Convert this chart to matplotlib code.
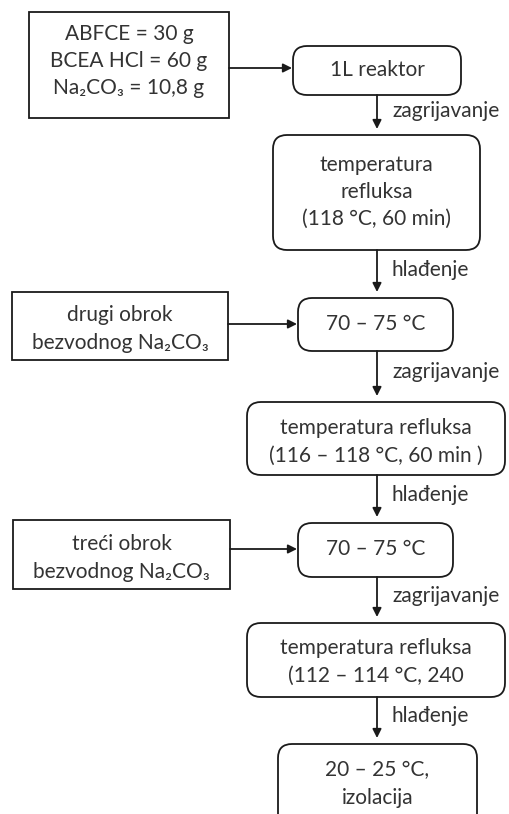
import matplotlib
matplotlib.use("Agg")
import matplotlib.pyplot as plt
from matplotlib.patches import FancyBboxPatch, Rectangle

plt.rcParams['font.family'] = ['Lato', 'DejaVu Sans']

# ---- content ----
input_texts = [
    "ABFCE = 30 g\nBCEA HCl = 60 g\nNa\u2082CO\u2083 = 10,8 g",
    "drugi obrok\nbezvodnog Na\u2082CO\u2083",
    "treći obrok\nbezvodnog Na\u2082CO\u2083",
]
step_texts = [
    "1L reaktor",
    "temperatura\nrefluksa\n(118 °C, 60 min)",
    "70 – 75 °C",
    "temperatura refluksa\n(116 – 118 °C, 60 min )",
    "70 – 75 °C",
    "temperatura refluksa\n(112 – 114 °C, 240",
    "20 – 25 °C,\nizolacija",
]
arrow_labels = ["zagrijavanje", "hlađenje", "zagrijavanje", "hlađenje",
                "zagrijavanje", "hlađenje"]

# ---- layout (pixels, y down) ----
W, H = 509, 814
fig = plt.figure(figsize=(W / 100, H / 100), dpi=100)
ax = fig.add_axes([0, 0, 1, 1])
ax.set_xlim(0, W)
ax.set_ylim(H, 0)
ax.axis('off')

LC = '#1a1a1a'
TC = '#333333'
FS = 15

# step boxes: (x0, y0, x1, y1, text_y_centre)
step_boxes = [
    (293, 46, 461, 95, 70),
    (273, 135, 480, 250, 192),
    (298, 298, 453, 351, 324),
    (247, 402, 505, 475, 442),
    (298, 523, 453, 577, 549),
    (247, 623, 505, 697, 662),
    (278, 744, 477, 830, 784),
]
input_boxes = [
    (29, 12, 229, 118, 61, 68),
    (12, 292, 228, 360, 329, 324),
    (13, 520, 230, 589, 558, 549),
]
LS = 1.45  # linespacing

r = 14
for (x0, y0, x1, y1, ty), t in zip(step_boxes, step_texts):
    p = FancyBboxPatch((x0 + r, y0 + r), (x1 - x0) - 2 * r, (y1 - y0) - 2 * r,
                       boxstyle=f"round,pad={r},rounding_size={r}",
                       fc='white', ec=LC, lw=1.3)
    ax.add_patch(p)
    ax.text((x0 + x1) / 2, ty, t, ha='center', va='center', fontsize=FS,
            color=TC, linespacing=LS)

for (x0, y0, x1, y1, ty, ay), t, (sx0, sy0, sx1, sy1, _) in zip(
        input_boxes, input_texts, [step_boxes[0], step_boxes[2], step_boxes[4]]):
    ax.add_patch(Rectangle((x0, y0), x1 - x0, y1 - y0, fc='white', ec=LC, lw=1.3))
    ax.text((x0 + x1) / 2, ty, t, ha='center', va='center', fontsize=FS,
            color=TC, linespacing=LS)
    ax.annotate('', xy=(sx0 - 1, ay), xytext=(x1, ay),
                arrowprops=dict(arrowstyle='-|>', color=LC, lw=1.3,
                                mutation_scale=13, shrinkA=0, shrinkB=0))

ax_x = 377
for i, lab in enumerate(arrow_labels):
    ya = step_boxes[i][3]
    yb = step_boxes[i + 1][1]
    ax.annotate('', xy=(ax_x, yb - 6), xytext=(ax_x, ya),
                arrowprops=dict(arrowstyle='-|>', color=LC, lw=1.3,
                                mutation_scale=13, shrinkA=0, shrinkB=0))
    ax.text(ax_x + 15, (ya + yb) / 2 - 4, lab, ha='left', va='center',
            fontsize=FS, color=TC)

fig.savefig('out.png', dpi=100, facecolor='white')
